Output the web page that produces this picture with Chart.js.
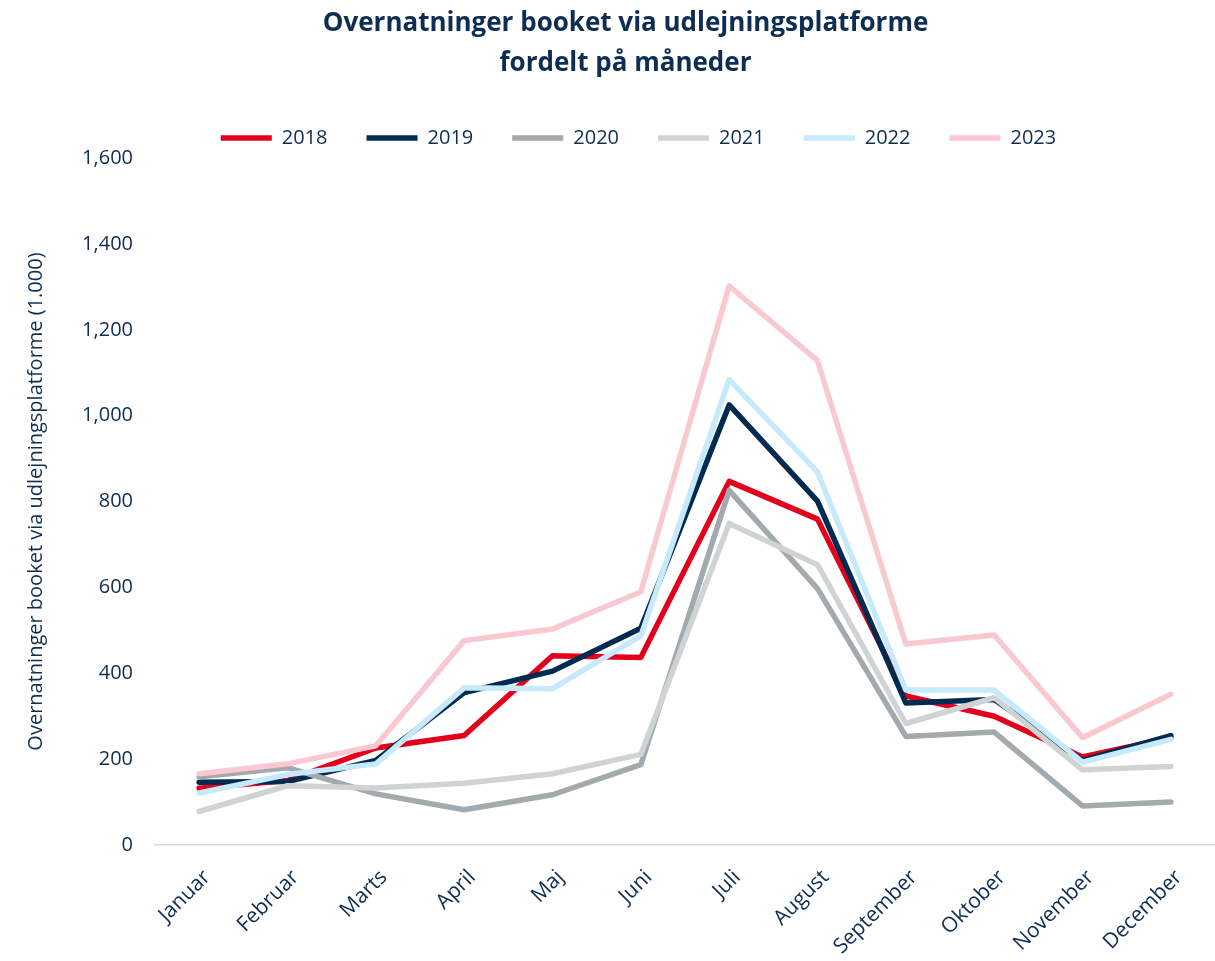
<!DOCTYPE html>
<html>
<head>
<meta charset="utf-8">
<script src="https://cdn.jsdelivr.net/npm/chart.js@4/dist/chart.umd.min.js"></script>
<style>
  html, body { margin: 0; padding: 0; background: #ffffff; }
  #wrap { width: 1215px; height: 961px; }
</style>
</head>
<body>
<div id="wrap"><canvas id="c" width="1215" height="961"></canvas></div>
<script>
const months = ['Januar','Februar','Marts','April','Maj','Juni','Juli','August','September','Oktober','November','December'];
const years = ['2018','2019','2020','2021','2022','2023'];
const v2018 = [132, 150, 226, 255, 441, 437, 847, 759, 347, 300, 205, 250];
const v2019 = [146, 148, 197, 355, 405, 505, 1025, 801, 331, 339, 197, 255];
const v2020 = [159, 180, 119, 82, 117, 187, 826, 597, 253, 263, 91, 100];
const v2021 = [78, 138, 133, 144, 166, 211, 749, 653, 283, 343, 175, 183];
const v2022 = [121, 164, 189, 366, 364, 487, 1084, 869, 361, 361, 193, 246];
const v2023 = [166, 189, 231, 476, 503, 590, 1302, 1128, 468, 489, 250, 351];
const yTicks = [0, 200, 400, 600, 800, 1000, 1200, 1400, 1600];
const titleLines = ['Overnatninger booket via udlejningsplatforme', 'fordelt på måneder'];
const yTitle = 'Overnatninger booket via udlejningsplatforme (1.000)';

const seriesValues = [v2018, v2019, v2020, v2021, v2022, v2023];
const colors = ['#E2001A', '#002B51', '#A2AAAD', '#D0D3D4', '#C6E9FB', '#F9C8D0'];
const textColor = '#0E2D52';
const FONT = '"Open Sans", "Noto Sans", sans-serif';

const datasets = years.map((y, i) => ({
  label: y,
  data: seriesValues[i],
  borderColor: colors[i],
  backgroundColor: colors[i],
  borderWidth: 5.5,
  borderCapStyle: 'round',
  borderJoinStyle: 'round',
  pointRadius: 0,
  pointHoverRadius: 0,
  tension: 0,
  fill: false,
  order: years.length - i
}));

const legendFix = {
  id: 'legendFix',
  beforeUpdate(chart) {
    if (chart.legend && !chart.legend._patched) {
      chart.legend._patched = true;
      chart.legend.afterFit = function () { this.height = 72; };
    }
  },
  afterLayout(chart) {
    if (chart.legend) {
      chart.legend.left += 13;
      chart.legend.right += 13;
    }
  }
};

new Chart(document.getElementById('c'), {
  type: 'line',
  data: { labels: months, datasets },
  plugins: [legendFix],
  options: {
    responsive: false,
    animation: false,
    layout: { padding: { left: 24, right: -12, top: 0, bottom: 0 } },
    plugins: {
      tooltip: { enabled: false },
      title: {
        display: true,
        text: titleLines,
        color: textColor,
        font: { family: FONT, size: 26, weight: 'bold', lineHeight: 1.54 },
        padding: { top: 4, bottom: 5 }
      },
      legend: {
        display: true,
        position: 'top',
        labels: {
          usePointStyle: true,
          pointStyle: 'line',
          pointStyleWidth: 51,
          boxHeight: 20,
          padding: 39,
          color: textColor,
          font: { family: FONT, size: 20 },
          sort: (a, b) => a.datasetIndex - b.datasetIndex
        }
      }
    },
    scales: {
      x: {
        offset: true,
        grid: { display: false, drawTicks: false },
        border: { display: true, color: '#D9D9D9', width: 1.5 },
        ticks: {
          autoSkip: false,
          minRotation: 45,
          maxRotation: 45,
          padding: 20,
          labelOffset: 8,
          color: textColor,
          font: { family: FONT, size: 21 }
        },
        afterFit: (s) => { s.height = 116; }
      },
      y: {
        min: 0,
        max: 1600,
        grid: { display: false, drawTicks: false },
        border: { display: false },
        afterBuildTicks: (s) => { s.ticks = yTicks.map(v => ({ value: v })); },
        ticks: {
          padding: 22,
          color: textColor,
          font: { family: FONT, size: 20 },
          callback: (v) => Number(v).toLocaleString('en-US')
        },
        title: {
          display: true,
          text: yTitle,
          color: textColor,
          font: { family: FONT, size: 20, lineHeight: 1.2 },
          padding: 0
        },
        afterFit: (s) => { s.width = 131; }
      }
    }
  }
});
</script>
</body>
</html>
